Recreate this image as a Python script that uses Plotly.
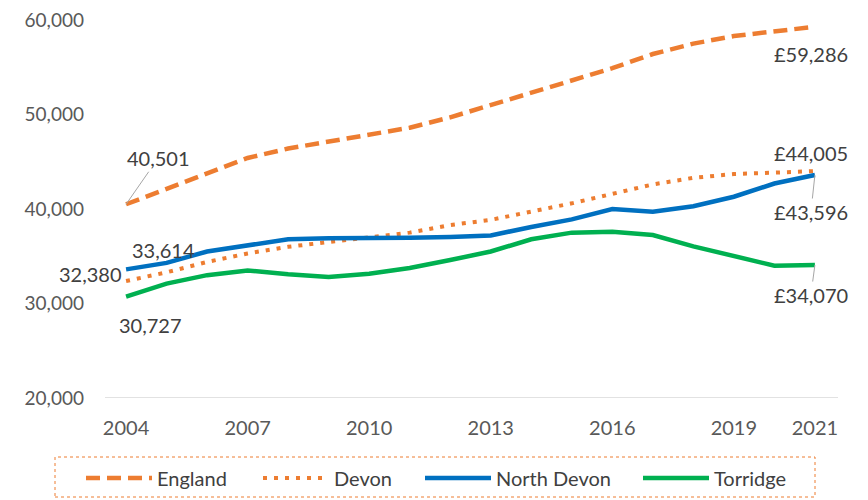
import plotly.graph_objects as go

years = list(range(2004, 2022))
england = [40501, 42100, 43800, 45400, 46400, 47150, 47800, 48600, 49700, 51000,
           52300, 53600, 54900, 56400, 57500, 58300, 58800, 59286]
devon = [32380, 33300, 34400, 35300, 36000, 36450, 37000, 37500, 38300, 38850,
         39700, 40600, 41600, 42600, 43300, 43700, 43850, 44005]
north_devon = [33614, 34300, 35500, 36200, 36800, 36900, 36900, 36950, 37050, 37200,
               38100, 38900, 40000, 39700, 40300, 41300, 42700, 43596]
torridge = [30727, 32100, 33000, 33500, 33100, 32800, 33150, 33750, 34600, 35500,
            36800, 37500, 37600, 37250, 36050, 35000, 34000, 34070]

x_ticks = [2004, 2007, 2010, 2013, 2016, 2019, 2021]
y_ticks = [20000, 30000, 40000, 50000, 60000]

ORANGE = "#ED7D31"
BLUE = "#0070C0"
GREEN = "#00B050"
FONT = "Lato, sans-serif"
W, H = 868, 500
OFF = 8  # page body margin
TOP = 20  # screen y of the 60,000 level
BOT = 398  # screen y of the 20,000 level

fig = go.Figure()
fig.add_trace(go.Scatter(x=years, y=england, name="England", mode="lines", legend="legend",
                         line=dict(color=ORANGE, width=4.5, dash="14px,7px")))
fig.add_trace(go.Scatter(x=years, y=devon, name="Devon", mode="lines", legend="legend2",
                         line=dict(color=ORANGE, width=4, dash="4px,7px")))
fig.add_trace(go.Scatter(x=years, y=north_devon, name="North Devon", mode="lines",
                         legend="legend3", line=dict(color=BLUE, width=4.5)))
fig.add_trace(go.Scatter(x=years, y=torridge, name="Torridge", mode="lines",
                         legend="legend4", line=dict(color=GREEN, width=4.5)))

lab_font = dict(family=FONT, size=20, color="#404040")

def fmt(v, pound=False):
    return ("£" if pound else "") + f"{v:,}"

anns = [
    dict(x=years[0], y=england[0], text=fmt(england[0]), showarrow=True, arrowhead=0,
         arrowwidth=1, arrowcolor="#A6A6A6", ax=32, ay=-46),
    dict(x=years[0], y=north_devon[0], text=fmt(north_devon[0]), showarrow=False,
         xshift=37, yshift=19),
    dict(x=years[0], y=devon[0], text=fmt(devon[0]), showarrow=False,
         xshift=-36, yshift=7),
    dict(x=years[0], y=torridge[0], text=fmt(torridge[0]), showarrow=False,
         xshift=24, yshift=-28),
    dict(x=years[-1], y=england[-1], text=fmt(england[-1], True), showarrow=False,
         xshift=-4, yshift=-27),
    dict(x=years[-1], y=devon[-1], text=fmt(devon[-1], True), showarrow=False,
         xshift=-4, yshift=18),
    dict(x=years[-1], y=north_devon[-1], text=fmt(north_devon[-1], True), showarrow=True,
         arrowhead=0, arrowwidth=1, arrowcolor="#A6A6A6", ax=-4, ay=37),
    dict(x=years[-1], y=torridge[-1], text=fmt(torridge[-1], True), showarrow=True,
         arrowhead=0, arrowwidth=1, arrowcolor="#A6A6A6", ax=-4, ay=30),
]
for a in anns:
    a["font"] = lab_font
    a["xref"] = "x"
    a["yref"] = "y"
fig.update_layout(annotations=anns)

PH = BOT - TOP
# plot area on screen: x 105..838, y TOP..BOT
fig.add_shape(type="rect", xref="paper", yref="paper",
              x0=(55 - 105) / 733, x1=(815 - 105) / 733,
              y0=(BOT - 497) / PH, y1=(BOT - 457) / PH,
              line=dict(color=ORANGE, width=1, dash="dot"))
fig.add_shape(type="line", xref="paper", yref="y", x0=0, x1=1, y0=20000, y1=20000,
              line=dict(color="#D9D9D9", width=1.5))

def leg(px):
    return dict(orientation="h", xref="container", yref="container",
                x=(px - OFF) / W, xanchor="left", y=1 - (478 - OFF) / H, yanchor="middle",
                font=dict(family=FONT, size=20, color="#404040"),
                itemwidth=66, bgcolor="rgba(0,0,0,0)")

fig.update_layout(
    width=W, height=H,
    margin=dict(l=105 - OFF, r=W - 838 + OFF, t=TOP - OFF, b=H - BOT + OFF, autoexpand=False),
    paper_bgcolor="white", plot_bgcolor="white",
    font=dict(family=FONT, color="#595959"),
    showlegend=True,
    legend=leg(81), legend2=leg(258), legend3=leg(420), legend4=leg(638),
    xaxis=dict(range=[2003.48, 2021.57], tickmode="array", tickvals=x_ticks,
               ticktext=[str(t) for t in x_ticks], showgrid=False, zeroline=False,
               showline=False, ticks="", tickfont=dict(family=FONT, size=20, color="#595959"),
               ticklabelstandoff=16, automargin=False, ticklabeloverflow="allow"),
    yaxis=dict(range=[20000, 60000], tickmode="array", tickvals=y_ticks,
               ticktext=[f"{t:,}" for t in y_ticks], showgrid=False, zeroline=False,
               showline=False, ticks="", tickfont=dict(family=FONT, size=19, color="#595959"),
               ticklabelstandoff=20, automargin=False, ticklabeloverflow="allow"),
)

fig.write_html("out.html")
